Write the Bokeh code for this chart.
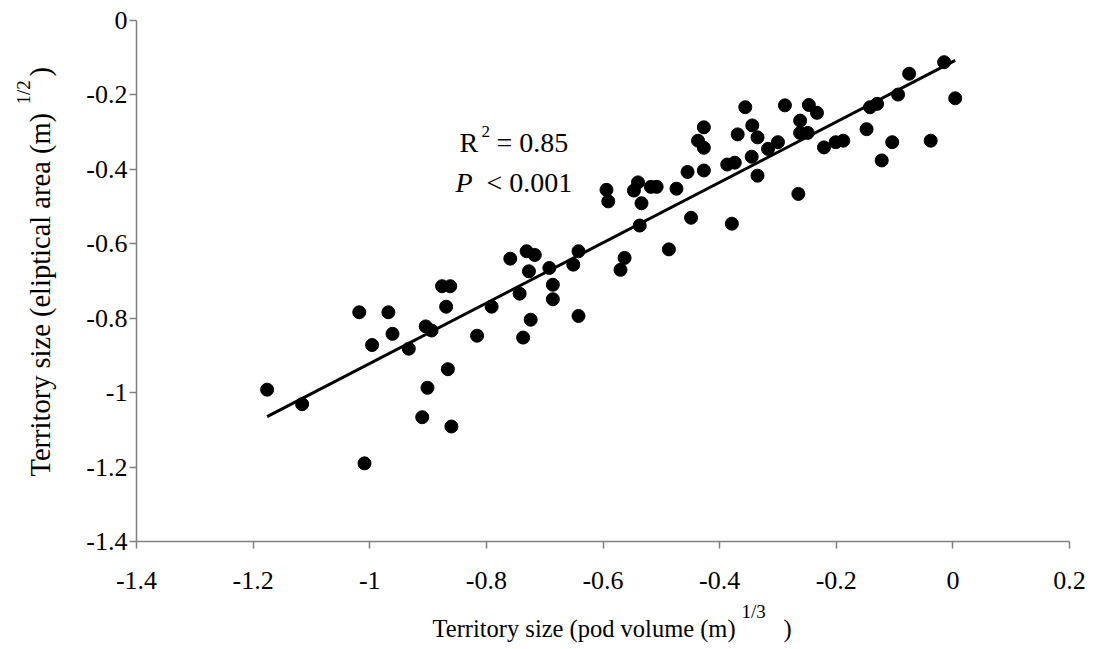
import numpy as np
from bokeh.plotting import figure
from bokeh.models import Label, FixedTicker, Range1d, CustomJSTickFormatter
from bokeh.embed import file_html
from bokeh.resources import INLINE

# ---- data ----
pod_volume = [
    -1.176, -1.116, -1.018, -0.968, -0.961, -0.996, -1.009, -0.933, -0.904, -0.894,
    -0.901, -0.910, -0.876, -0.862, -0.869, -0.866, -0.860, -0.816, -0.791, -0.759,
    -0.731, -0.717, -0.727, -0.743, -0.724, -0.737, -0.692, -0.686, -0.686, -0.651,
    -0.642, -0.642, -0.594, -0.591, -0.563, -0.570, -0.540, -0.547, -0.534, -0.537,
    -0.518, -0.508, -0.487, -0.474, -0.455, -0.449, -0.427, -0.437, -0.427, -0.427,
    -0.387, -0.374, -0.379, -0.369, -0.356, -0.344, -0.335, -0.345, -0.335, -0.317,
    -0.300, -0.288, -0.262, -0.262, -0.249, -0.247, -0.233, -0.265, -0.221, -0.201,
    -0.188, -0.148, -0.142, -0.130, -0.122, -0.104, -0.094, -0.075, -0.038, -0.015,
    0.004,
]
elliptical_area = [
    -0.992, -1.031, -0.784, -0.784, -0.842, -0.872, -1.190, -0.882, -0.822, -0.833,
    -0.987, -1.066, -0.714, -0.714, -0.769, -0.937, -1.091, -0.847, -0.769, -0.640,
    -0.620, -0.630, -0.674, -0.734, -0.804, -0.852, -0.665, -0.710, -0.749, -0.656,
    -0.620, -0.794, -0.455, -0.486, -0.638, -0.670, -0.435, -0.457, -0.491, -0.551,
    -0.447, -0.447, -0.615, -0.452, -0.407, -0.530, -0.287, -0.323, -0.342, -0.403,
    -0.387, -0.382, -0.546, -0.306, -0.233, -0.282, -0.314, -0.366, -0.417, -0.345,
    -0.327, -0.228, -0.269, -0.302, -0.302, -0.227, -0.248, -0.466, -0.341, -0.327,
    -0.323, -0.292, -0.233, -0.224, -0.376, -0.327, -0.199, -0.143, -0.323, -0.112,
    -0.209,
]
x_ticks = [-1.4, -1.2, -1.0, -0.8, -0.6, -0.4, -0.2, 0.0, 0.2]
x_tick_labels = ["-1.4", "-1.2", "-1", "-0.8", "-0.6", "-0.4", "-0.2", "0", "0.2"]
y_ticks = [-1.4, -1.2, -1.0, -0.8, -0.6, -0.4, -0.2, 0.0]
y_tick_labels = ["-1.4", "-1.2", "-1", "-0.8", "-0.6", "-0.4", "-0.2", "0"]
r2_value = "0.85"
p_value = "0.001"
x_title = "Territory size (pod volume (m)"
x_title_sup = "1/3"
y_title = "Territory size (eliptical area (m)"
y_title_sup = "1/2"

# ---- layout: the frame fills the canvas, axes sit at fixed data locations ----
W, H = 1095, 649
L, R, T, B = 136, 1069, 20, 541          # pixel box of the axes area
X0, X1, Y0, Y1 = -1.4, 0.2, -1.4, 0.0
FONT = "Liberation Serif"

ppx = (R - L) / (X1 - X0)
ppy = (B - T) / (Y1 - Y0)
x_range = Range1d(X0 - L / ppx, X1 + (W - R) / ppx)
y_range = Range1d(Y0 - (H - B) / ppy, Y1 + T / ppy)

p = figure(width=W, height=H, x_range=x_range, y_range=y_range, title=None,
           output_backend="svg", toolbar_location=None,
           min_border_left=0, min_border_right=0, min_border_top=0, min_border_bottom=0)
p.outline_line_color = None
p.grid.visible = False
p.background_fill_color = "white"
p.border_fill_color = "white"

# axes: lines and ticks from Bokeh; their labels are written below as serif text
for ax, ticks in ((p.xaxis[0], x_ticks), (p.yaxis[0], y_ticks)):
    ax.ticker = FixedTicker(ticks=ticks)
    ax.formatter = CustomJSTickFormatter(code="return '';")
    ax.bounds = (min(ticks), max(ticks))
    ax.axis_line_color = "#808080"
    ax.axis_line_width = 1.5
    ax.major_tick_line_color = "#808080"
    ax.major_tick_line_width = 1.5
    ax.major_tick_in = 0
    ax.major_tick_out = 7
    ax.minor_tick_line_color = None
    ax.major_label_text_font_size = "0px"
p.xaxis.fixed_location = Y0
p.yaxis.fixed_location = X0

# ---- data marks ----
p.scatter(pod_volume, elliptical_area, size=13, fill_color="black", line_color="black")

slope, intercept = np.polyfit(pod_volume, elliptical_area, 1)
xs = [min(pod_volume), max(pod_volume)]
p.line(xs, [slope * v + intercept for v in xs], line_color="black", line_width=3)

# ---- tick labels (placed at the tick values through the plot's scales) ----
for t, s in zip(x_ticks, x_tick_labels):
    p.add_layout(Label(x=t, y=H - 580, x_units="data", y_units="screen", text=s,
                       text_font=FONT, text_font_size="26px", text_align="center",
                       text_baseline="middle", text_color="black"))
for t, s in zip(y_ticks, y_tick_labels):
    p.add_layout(Label(x=127, y=t, x_units="screen", y_units="data", text=s,
                       text_font=FONT, text_font_size="26px", text_align="right",
                       text_baseline="middle", text_color="black"))

# ---- text annotations (pixel positions on the canvas) ----
def lab(text, px, py, size, angle=0.0, style="normal"):
    p.add_layout(Label(x=px, y=H - py, x_units="screen", y_units="screen",
                       text=text, angle=angle,
                       text_font=FONT, text_font_size=size, text_font_style=style,
                       text_align="left", text_baseline="middle", text_color="black"))

# x axis title
lab(x_title, 432, 628, "24.5px")
lab(x_title_sup, 741, 611, "19px")
lab(")", 783, 628, "24.5px")

# y axis title (rotated)
ang = np.pi / 2
lab(y_title, 40, 476, "28.5px", angle=ang)
lab(y_title_sup, 23, 104, "19px", angle=ang)
lab(")", 40, 76, "28.5px", angle=ang)

# statistics
lab("R", 459, 142, "28px")
lab("2", 481, 131, "17px")
lab("= " + r2_value, 496, 142, "28px")
lab("P", 455, 182, "28px", style="italic")
lab("< " + p_value, 486, 182, "28px")

open("out.html", "w").write(file_html(p, INLINE))
